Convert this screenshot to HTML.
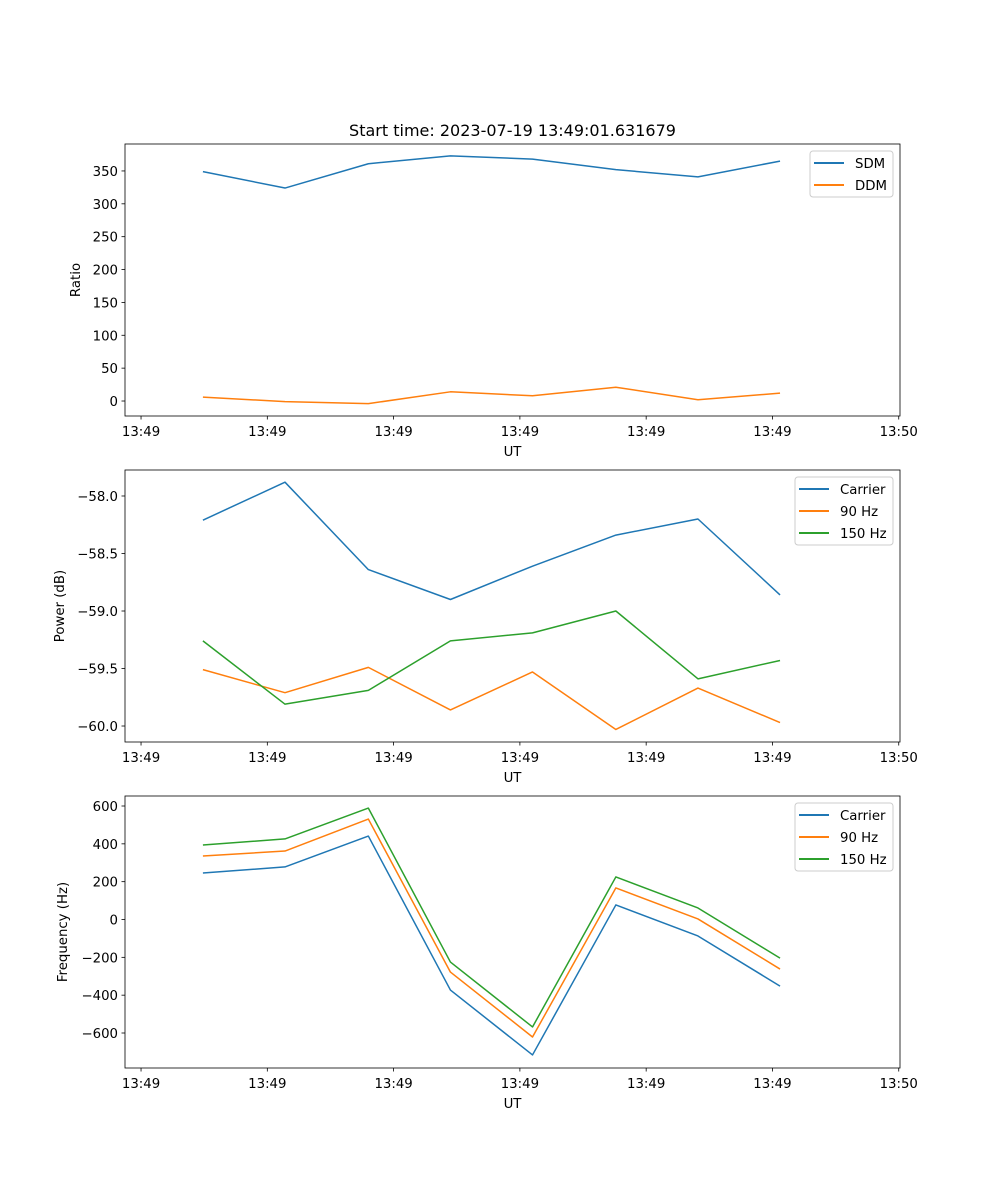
<!DOCTYPE html>
<html><head><meta charset="utf-8"><style>
body{margin:0;background:#fff;}
svg{display:block;font-family:"DejaVu Sans","Liberation Sans",sans-serif;}
</style></head><body>
<svg id="fig" width="1000" height="1200" xmlns="http://www.w3.org/2000/svg">
<rect width="1000" height="1200" fill="#fff"/>
<text x="512.5" y="136" font-size="16" text-anchor="middle">Start time: 2023-07-19 13:49:01.631679</text>
</svg>
<script>
const times = [4.9, 11.4, 18.0, 24.5, 31.0, 37.6, 44.1, 50.6];
const xTickVals = [0, 10, 20, 30, 40, 50, 60];
const xTickLabels = ["13:49","13:49","13:49","13:49","13:49","13:49","13:50"];
const sdm = [349, 324, 361, 373, 368, 352, 341, 365];
const ddm = [6, -1, -4, 14, 8, 21, 2, 12];
const powCarrier = [-58.21, -57.88, -58.64, -58.90, -58.61, -58.34, -58.20, -58.86];
const pow90 = [-59.51, -59.71, -59.49, -59.86, -59.53, -60.03, -59.67, -59.97];
const pow150 = [-59.26, -59.81, -59.69, -59.26, -59.19, -59.00, -59.59, -59.43];
const freqCarrier = [246, 278, 441, -373, -716, 77, -87, -352];
const freq90 = [336, 362, 531, -278, -621, 167, 3, -262];
const freq150 = [394, 426, 589, -225, -568, 225, 61, -204];
const ratioTicks = [0, 50, 100, 150, 200, 250, 300, 350];
const powerTicks = [-60.0, -59.5, -59.0, -58.5, -58.0];
const freqTicks = [-600, -400, -200, 0, 200, 400, 600];

const NS = "http://www.w3.org/2000/svg";
const svg = document.getElementById("fig");
const L = 125, R = 900, tMin = -1.27, tMax = 60.1;
const FS = 13.3;
const xs = t => L + (t - tMin) / (tMax - tMin) * (R - L);
function mk(tag, attrs, parent) {
  const e = document.createElementNS(NS, tag);
  for (const k in attrs) e.setAttribute(k, attrs[k]);
  (parent || svg).appendChild(e);
  return e;
}
const colors = ["#1f77b4", "#ff7f0e", "#2ca02c"];

function panel(name, top, bottom, yMin, yMax, yTicks, yFmt, yLabel, series, names, legend) {
  const g = mk("g", {});
  
  
  const ys = v => bottom - (v - yMin) / (yMax - yMin) * (bottom - top);
  series.forEach((s, i) => {
    const p = mk("polyline", {points: s.map((v, j) => xs(times[j]) + "," + ys(v)).join(" "), fill: "none", stroke: colors[i], "stroke-width": 1.5, "stroke-linejoin": "round"}, g);
    
    
  });
  mk("rect", {x: L, y: top, width: R - L, height: bottom - top, fill: "none", stroke: "#000", "stroke-width": 0.8}, g);
  xTickVals.forEach((t, i) => {
    const x = xs(t);
    mk("line", {x1: x, x2: x, y1: bottom, y2: bottom + 3.5, stroke: "#000", "stroke-width": 0.8}, g);
    const tx = mk("text", {x: x, y: bottom + 20, "font-size": FS, "text-anchor": "middle"}, g);
    tx.textContent = xTickLabels[i];
    
    
  });
  const xl = mk("text", {x: (L + R) / 2, y: bottom + 40, "font-size": FS, "text-anchor": "middle"}, g);
  xl.textContent = "UT";
  
  
  yTicks.forEach(v => {
    const y = ys(v);
    mk("line", {x1: L - 3.5, x2: L, y1: y, y2: y, stroke: "#000", "stroke-width": 0.8}, g);
    const tx = mk("text", {x: L - 7, y: y + 5, "font-size": FS, "text-anchor": "end"}, g);
    tx.textContent = yFmt(v);
    
    
  });
  const yl = mk("text", {x: 0, y: 0, "font-size": FS, "text-anchor": "middle", transform: "translate(" + legend.yLabelX + "," + (top + bottom) / 2 + ") rotate(-90)"}, g);
  yl.textContent = yLabel;
  
  
  const lg = mk("g", {}, g);
  
  
  mk("rect", {x: legend.x, y: top + 7, width: 893 - legend.x, height: 2 + names.length * 22, rx: 3, fill: "#fff", "fill-opacity": 0.8, stroke: "#ccc", "stroke-width": 1}, lg);
  names.forEach((n, i) => {
    const y = top + 19 + i * 22;
    mk("line", {x1: legend.x + 4, x2: legend.x + 34, y1: y, y2: y, stroke: colors[i], "stroke-width": 2}, lg);
    const t = mk("text", {x: legend.x + 45, y: y + 5, "font-size": FS}, lg);
    t.textContent = n;
    
    
  });
}
panel("ratio", 144, 416, -22.8, 391, ratioTicks, v => String(v), "Ratio", [sdm, ddm], ["SDM", "DDM"], {x: 810, yLabelX: 80});
panel("power", 470, 742, -60.139, -57.774, powerTicks, v => (v < 0 ? "\u2212" : "") + Math.abs(v).toFixed(1), "Power (dB)", [powCarrier, pow90, pow150], ["Carrier", "90 Hz", "150 Hz"], {x: 795, yLabelX: 64});
panel("frequency", 796, 1068, -785, 652.9, freqTicks, v => (v < 0 ? "\u2212" : "") + Math.abs(v), "Frequency (Hz)", [freqCarrier, freq90, freq150], ["Carrier", "90 Hz", "150 Hz"], {x: 795, yLabelX: 67});
</script>
</body></html>
